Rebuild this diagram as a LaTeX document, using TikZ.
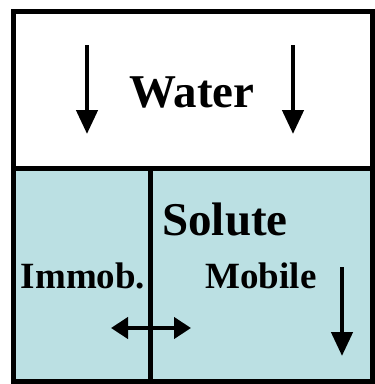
\documentclass[tikz,border=0pt]{standalone}
\usepackage{fontspec}
\setmainfont{Liberation Serif}
\usetikzlibrary{arrows.meta}
\definecolor{soluteblue}{RGB}{187,224,227}
\begin{document}
\begin{tikzpicture}[x=1pt,y=-1pt,
  frame/.style={line width=5pt, draw=black},
  flow/.style={line width=4.5pt, -{Triangle[width=21pt,length=24pt]}},
  exchange/.style={line width=4.5pt, {Triangle[width=21pt,length=17pt]}-{Triangle[width=21pt,length=17pt]}},
  label/.style={font=\bfseries, inner sep=0pt, anchor=base}]
\useasboundingbox (0,0) rectangle (375,384);
% solute region (lower part)
\fill[soluteblue] (13.5,168) rectangle (372,381);
% frame and partitions
\draw[frame] (13.5,11) rectangle (372,381);
\draw[frame] (13.5,168) -- (372,168);
\draw[frame] (150,168) -- (150,381);
% water flow arrows
\coordinate (wl1) at (87,45);
\coordinate (wl2) at (87,134);
\coordinate (wr1) at (293,45);
\coordinate (wr2) at (293,134);
\draw[flow] (wl1) -- (wl2);
\draw[flow] (wr1) -- (wr2);
% mobile solute flow
\coordinate (m1) at (342,267);
\coordinate (m2) at (342,356);
\draw[flow] (m1) -- (m2);
% exchange between immobile and mobile zones
\coordinate (e1) at (111,328);
\coordinate (e2) at (191,328);
\draw[exchange] (e1) -- (e2);
% labels
\node[label, font=\fontsize{47}{47}\selectfont\bfseries] (water) at (192,107) {Water};
\node[label, font=\fontsize{47}{47}\selectfont\bfseries] (solute) at (225,235) {Solute};
\node[label, font=\fontsize{37}{37}\selectfont\bfseries] (immob) at (83,288) {Immob.};
\node[label, font=\fontsize{37}{37}\selectfont\bfseries] (mobile) at (261,288) {Mobile};
\end{tikzpicture}
\end{document}
